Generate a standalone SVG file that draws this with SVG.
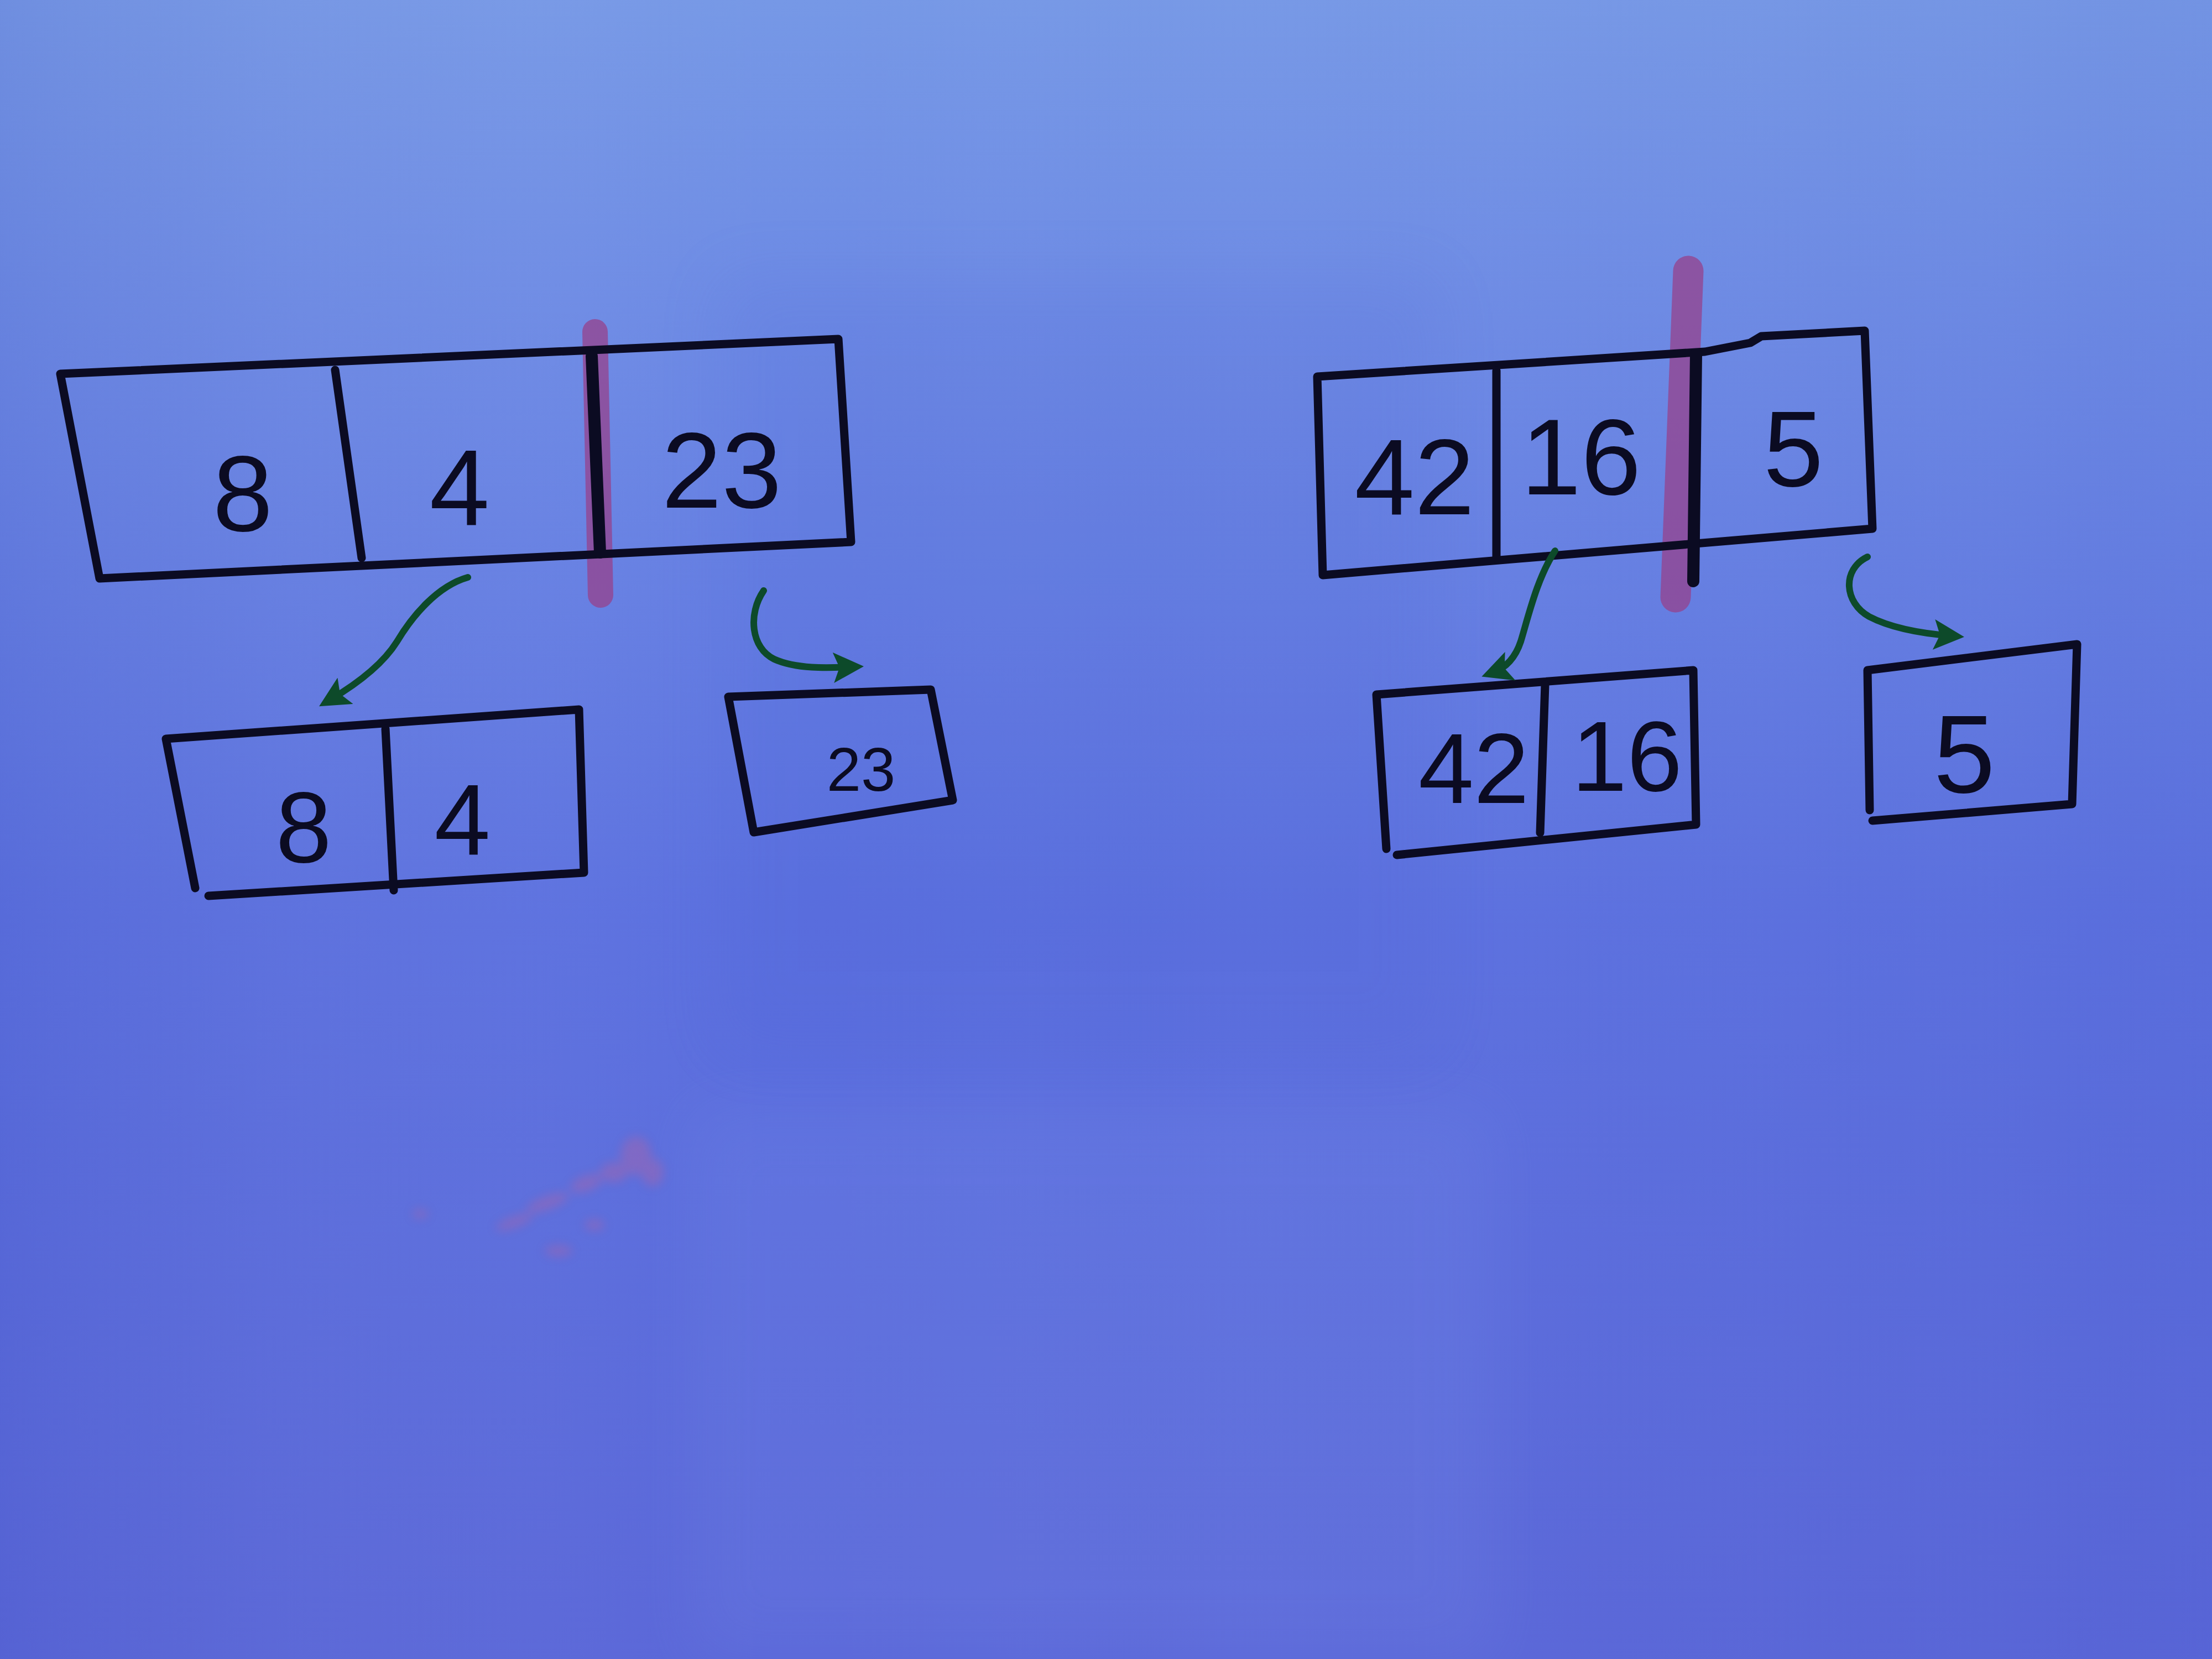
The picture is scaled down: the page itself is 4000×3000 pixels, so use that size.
<svg xmlns="http://www.w3.org/2000/svg" width="4000" height="3000" viewBox="0 0 4000 3000">
<defs>
<linearGradient id="bg" x1="0" y1="0" x2="0" y2="1">
<stop offset="0" stop-color="#7698e6"/>
<stop offset="0.25" stop-color="#6a86e4"/>
<stop offset="0.55" stop-color="#5b70df"/>
<stop offset="1" stop-color="#5966d8"/>
</linearGradient>
<linearGradient id="bgx" x1="0" y1="0" x2="1" y2="0">
<stop offset="0" stop-color="#3a46b0" stop-opacity="0.12"/>
<stop offset="0.35" stop-color="#ffffff" stop-opacity="0"/>
<stop offset="1" stop-color="#3a46b0" stop-opacity="0.06"/>
</linearGradient>
<filter id="blur" x="-50%" y="-50%" width="200%" height="200%"><feGaussianBlur stdDeviation="9"/></filter>
<filter id="soft" x="-10%" y="-10%" width="120%" height="120%"><feGaussianBlur stdDeviation="60"/></filter>
<marker id="ah" viewBox="0 0 10 10" refX="6" refY="5" markerWidth="55" markerHeight="55" markerUnits="userSpaceOnUse" orient="auto">
<path d="M0,0 L10,5 L0,10 L2,5 Z" fill="#0d4a2a"/>
</marker>
</defs>
<style>
.ink{fill:none;stroke:#0b0b22;stroke-width:15;stroke-linejoin:round;stroke-linecap:round}
.thick{fill:none;stroke:#0b0b22;stroke-width:22;stroke-linecap:round}
.mark{fill:none;stroke:#96428c;stroke-opacity:0.75;stroke-linecap:round}
.arrow{fill:none;stroke:#0d4a2a;stroke-width:12;stroke-linecap:round;marker-end:url(#ah)}
.num{font-family:"Liberation Sans","DejaVu Sans",sans-serif;fill:#0b0b22;text-anchor:middle;font-weight:normal}
</style>
<rect width="4000" height="3000" fill="url(#bg)"/>
<rect width="4000" height="3000" fill="url(#bgx)"/>
<rect x="1250" y="2000" width="1450" height="1000" fill="#8aa0f0" opacity="0.12" filter="url(#soft)"/>
<rect x="1300" y="500" width="1300" height="1400" fill="#4a5cd0" opacity="0.1" filter="url(#soft)"/>
<g id="smudge" filter="url(#blur)" fill="#c0609a" opacity="0.35">
<ellipse cx="1150" cy="2090" rx="28" ry="35"/>
<ellipse cx="1180" cy="2120" rx="20" ry="25"/>
<ellipse cx="1110" cy="2120" rx="25" ry="18"/>
<ellipse cx="1060" cy="2140" rx="30" ry="14" transform="rotate(-20 1060 2140)"/>
<ellipse cx="990" cy="2175" rx="40" ry="12" transform="rotate(-20 990 2175)"/>
<ellipse cx="930" cy="2210" rx="35" ry="10" transform="rotate(-20 930 2210)"/>
<ellipse cx="1075" cy="2215" rx="18" ry="10"/>
<ellipse cx="1010" cy="2262" rx="25" ry="10"/>
<ellipse cx="760" cy="2195" rx="14" ry="8"/>
</g>

<g id="left-array">
<path class="mark" stroke-width="46" d="M1076,600 L1086,1076"/>
<path class="ink" d="M109,676 L1449,616 L1516,613 L1539,980 L180,1046 Z"/>
<path class="ink" d="M606,669 L654,1009"/>
<path class="thick" d="M1070,644 L1085,999"/>
<text class="num" x="439" y="960" font-size="195">8</text>
<text class="num" x="831" y="949" font-size="195">4</text>
<text class="num" x="1305" y="918" font-size="195">23</text>
</g>

<g id="left-sub-84">
<path class="ink" d="M353,1606 L300,1336 L1047,1283 L1056,1578 L377,1620"/>
<path class="ink" d="M697,1318 L712,1610"/>
<text class="num" x="549" y="1559" font-size="182">8</text>
<text class="num" x="836" y="1545" font-size="182">4</text>
</g>

<g id="left-sub-23">
<path class="ink" d="M1363,1505 L1317,1260 L1683,1247 L1723,1447 Z"/>
<text class="num" x="1557" y="1430" font-size="112">23</text>
</g>

<g id="right-array">
<path class="mark" stroke-width="55" d="M3053,490 L3030,1080"/>
<path class="ink" d="M2392,1040 L2382,681 L3083,636 L3165,620 L3185,608 L3372,598 L3386,956 Z"/>
<path class="ink" d="M2706,670 L2706,1011"/>
<path class="thick" d="M3067,641 L3062,1051"/>
<text class="num" x="2558" y="930" font-size="195">42</text>
<text class="num" x="2859" y="894" font-size="195">16</text>
<text class="num" x="3243" y="879" font-size="195">5</text>
</g>

<g id="right-sub-4216">
<path class="ink" d="M2507,1535 L2489,1256 L3062,1212 L3067,1491 L2526,1546"/>
<path class="ink" d="M2794,1238 L2785,1506"/>
<text class="num" x="2665" y="1452" font-size="180">42</text>
<text class="num" x="2942" y="1430" font-size="180">16</text>
</g>

<g id="right-sub-5">
<path class="ink" d="M3381,1465 L3377,1212 L3756,1165 L3747,1454 L3386,1484"/>
<text class="num" x="3552" y="1433" font-size="200">5</text>
</g>

<g id="connectors">
<path class="arrow" d="M846,1044 C790,1060 745,1115 718,1160 C690,1205 640,1240 596,1266"/>
<path class="arrow" d="M1381,1068 C1352,1110 1358,1172 1400,1192 C1440,1210 1495,1208 1540,1206"/>
<path class="arrow" d="M2812,996 C2780,1045 2765,1110 2750,1160 C2740,1190 2722,1208 2700,1216"/>
<path class="arrow" d="M3377,1007 C3330,1030 3335,1090 3380,1115 C3420,1136 3480,1146 3530,1150"/>
</g>
</svg>
